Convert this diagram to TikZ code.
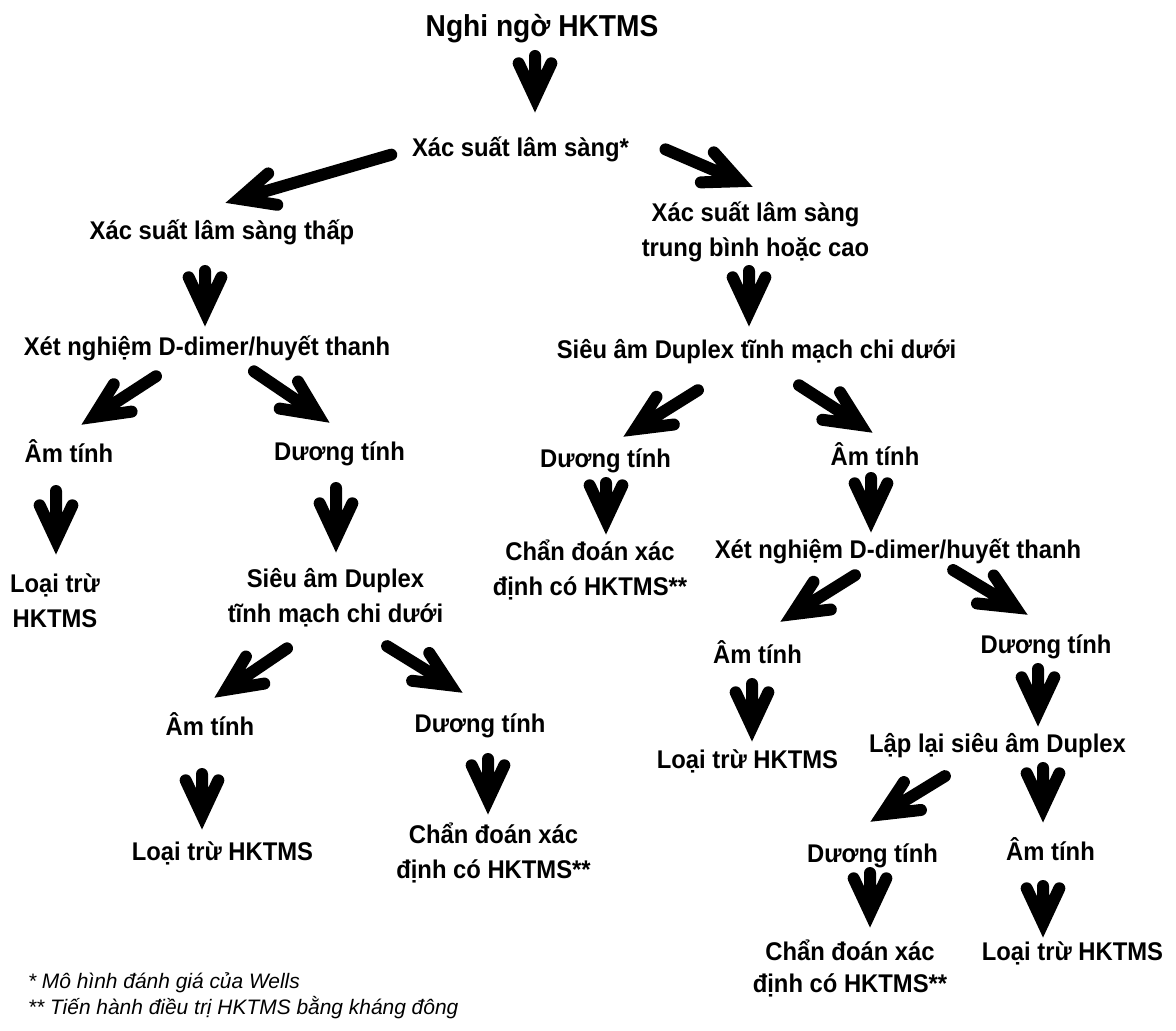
\documentclass[tikz,border=0pt]{standalone}
\usepackage{fontspec}
\usetikzlibrary{calc}
\newfontfamily\lblfont{Liberation Sans Bold}[FakeStretch=0.93]
\newfontfamily\notefont{Liberation Sans Italic}
\newcommand\twolines[1]{\begin{tabular}[t]{@{}c@{}}#1\end{tabular}}

\tikzset{
  lbl/.style={inner sep=0pt, outer sep=0pt, anchor=base,
    font=\lblfont\fontsize{19.2pt}{26.25pt}\selectfont},
  ttl/.style={lbl, font=\lblfont\fontsize{22.7pt}{27pt}\selectfont},
  note/.style={inner sep=0pt, outer sep=0pt, anchor=base west,
    font=\notefont\fontsize{15.7pt}{20pt}\selectfont},
  % thick shaft with an open chevron head, round ends, pointed tip
  fat/.style={line width=9pt, line cap=round, line join=miter,
    to path={
      ($(\tikztotarget)!11pt!(\tikztostart)$) coordinate (fatT)
      ($(\tikztostart)!4.5pt!(\tikztotarget)$) -- (fatT)
      ($(fatT)!29pt!25:(\tikztostart)$) -- (fatT) -- ($(fatT)!29pt!-25:(\tikztostart)$)
    }}
}

\begin{document}
\begin{tikzpicture}[x=0.75pt, y=-0.75pt]
\useasboundingbox[fill=white] (0,0) rectangle (1176,1030);

% title and first split
\node[ttl] (n0) at (542,37) {Nghi ngờ HKTMS};
\node[lbl] (n1) at (520.5,157) {Xác suất lâm sàng*};
\node[lbl] (n2) at (222,240) {Xác suất lâm sàng thấp};
\node[lbl] (n3) at (755.5,222) {\twolines{Xác suất lâm sàng\\trung bình hoặc cao}};

% low probability branch
\node[lbl] (n4) at (207,355) {Xét nghiệm D-dimer/huyết thanh};
\node[lbl] (n6) at (69,462) {Âm tính};
\node[lbl] (n7) at (339.5,460) {Dương tính};
\node[lbl] (n8) at (55,592) {\twolines{Loại trừ\\HKTMS}};
\node[lbl] (n9) at (335.5,587) {\twolines{Siêu âm Duplex\\tĩnh mạch chi dưới}};
\node[lbl] (n10) at (210,735) {Âm tính};
\node[lbl] (n11) at (480,732) {Dương tính};
\node[lbl] (n12) at (222.5,860) {Loại trừ HKTMS};
\node[lbl] (n13) at (493.5,843) {\twolines{Chẩn đoán xác\\định có HKTMS**}};

% moderate / high probability branch
\node[lbl] (n5) at (756.5,358) {Siêu âm Duplex tĩnh mạch chi dưới};
\node[lbl] (n14) at (605.5,467) {Dương tính};
\node[lbl] (n15) at (875,465) {Âm tính};
\node[lbl] (n16) at (590,560) {\twolines{Chẩn đoán xác\\định có HKTMS**}};
\node[lbl] (n17) at (898,558) {Xét nghiệm D-dimer/huyết thanh};
\node[lbl] (n18) at (757.5,663) {Âm tính};
\node[lbl] (n19) at (1046,653) {Dương tính};
\node[lbl] (n20) at (747.5,768) {Loại trừ HKTMS};
\node[lbl] (n21) at (997.5,752) {Lập lại siêu âm Duplex};
\node[lbl] (n22) at (872.5,862) {Dương tính};
\node[lbl] (n23) at (1050.5,860) {Âm tính};
\node[lbl] (n24) at (850,960) {\fontsize{19.2pt}{24pt}\selectfont\twolines{Chẩn đoán xác\\định có HKTMS**}};
\node[lbl] (n25) at (1072.5,960) {Loại trừ HKTMS};

% footnotes
\node[note] (f1) at (28,988) {* Mô hình đánh giá của Wells};
\node[note] (f2) at (28,1014) {** Tiến hành điều trị HKTMS bằng kháng đông};

% connectors
\draw[fat] ([shift={(-7,13)}]n0.base) to ([shift={(14.5,-44)}]n1.base);
\draw[fat] ([shift={(-123.5,-4)}]n1.base) to ([shift={(3,-37)}]n2.base);
\draw[fat] ([shift={(139.5,-10)}]n1.base) to ([shift={(-2.5,-35)}]n3.base);
\draw[fat] ([shift={(-17,25)}]n2.base) to ([shift={(-2,-28)}]n4.base);
\draw[fat] ([shift={(-6.5,43)}]n3.base) to ([shift={(-7.5,-31)}]n5.base);
\draw[fat] ([shift={(-46,18)}]n4.base) to ([shift={(12,-37)}]n6.base);
\draw[fat] ([shift={(42,13)}]n4.base) to ([shift={(-9.5,-37)}]n7.base);
\draw[fat] ([shift={(-53.5,29)}]n5.base) to ([shift={(17.5,-30)}]n14.base);
\draw[fat] ([shift={(37.5,24)}]n5.base) to ([shift={(-2,-32)}]n15.base);
\draw[fat] ([shift={(-13,23)}]n6.base) to ([shift={(1,-37)}]n8.base);
\draw[fat] ([shift={(-3.5,22)}]n7.base) to ([shift={(0.5,-34)}]n9.base);
\draw[fat] ([shift={(0.5,10)}]n14.base) to ([shift={(16,-25)}]n16.base);
\draw[fat] ([shift={(-4,7)}]n15.base) to ([shift={(-27,-25)}]n17.base);
\draw[fat] ([shift={(-43.5,58)}]n9.base) to ([shift={(4,-37)}]n10.base);
\draw[fat] ([shift={(46.5,56)}]n9.base) to ([shift={(-17,-39)}]n11.base);
\draw[fat] ([shift={(-38,14)}]n17.base) to ([shift={(22.5,-41)}]n18.base);
\draw[fat] ([shift={(50,9)}]n17.base) to ([shift={(-18,-38)}]n19.base);
\draw[fat] ([shift={(-8,33)}]n10.base) to ([shift={(-20.5,-30)}]n12.base);
\draw[fat] ([shift={(8,21)}]n11.base) to ([shift={(-5.5,-28)}]n13.base);
\draw[fat] ([shift={(-5.5,15)}]n18.base) to ([shift={(4.5,-26)}]n20.base);
\draw[fat] ([shift={(-8,10)}]n19.base) to ([shift={(40.5,-25)}]n21.base);
\draw[fat] ([shift={(-47.5,21)}]n21.base) to ([shift={(-2.5,-40)}]n22.base);
\draw[fat] ([shift={(45.5,10)}]n21.base) to ([shift={(-7.5,-37)}]n23.base);
\draw[fat] ([shift={(-2.5,5)}]n22.base) to ([shift={(20,-32)}]n24.base);
\draw[fat] ([shift={(-7.5,20)}]n23.base) to ([shift={(-29.5,-22)}]n25.base);
\end{tikzpicture}
\end{document}
